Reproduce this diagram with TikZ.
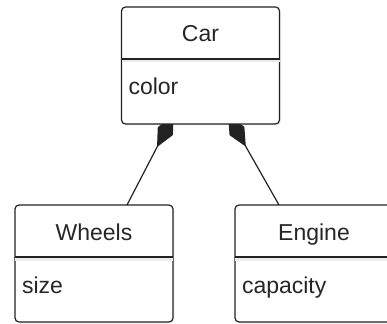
\documentclass[tikz,border=0pt]{standalone}
\usepackage{fontspec}
\setmainfont{Liberation Sans}
\usetikzlibrary{positioning,calc,arrows.meta,backgrounds,shadows}
\definecolor{umlline}{HTML}{222222}
\definecolor{umltext}{HTML}{262626}
\tikzset{
  classname/.style={minimum width=158pt, minimum height=52pt, inner sep=0pt, outer sep=0pt,
    text height=18pt, text depth=0pt, font=\fontsize{23}{27}\selectfont, text=umltext},
  classattr/.style={minimum width=158pt, minimum height=65pt, inner xsep=7pt, inner ysep=0pt,
    outer sep=0pt, text width=144pt, align=left, text height=12pt, text depth=5pt,
    font=\fontsize{23}{27}\selectfont, text=umltext},
  classframe/.style={draw=umlline, line width=1.2pt, rounded corners=4pt, fill=white,
    drop shadow={opacity=0.12, shadow xshift=1.5pt, shadow yshift=-1.5pt}},
  compose/.style={draw=umlline, line width=1.2pt, -{Diamond[length=36pt,width=17pt]}, shorten >=-10pt},
  divider/.style={draw=umlline, line width=1.2pt},
  dividershade/.style={black!8, line width=3pt}
}
\begin{document}
\begin{tikzpicture}[x=1pt,y=-1pt]
\useasboundingbox (0,0) rectangle (387,323);
\clip (0,0) rectangle (387,323);
\node[classname] (car) at (200.5,33) {Car};
\node[classattr, below=0pt of car] (car attr) {color};
\node[classname] (wheels) at (94,231) {Wheels};
\node[classattr, below=0pt of wheels] (wheels attr) {size};
\node[classname] (engine) at (314,231) {Engine};
\node[classattr, below=0pt of engine] (engine attr) {capacity};
\begin{scope}[on background layer]
\draw[compose] ($(wheels.north)+(33,0)$) -- ($(car attr.south)+(-31.5,0)$);
\draw[compose] ($(engine.north)+(-35,0)$) -- ($(car attr.south)+(32.5,0)$);
\draw[classframe] (car.north west) rectangle (car attr.south east);
\draw[classframe] (wheels.north west) rectangle (wheels attr.south east);
\draw[classframe] (engine.north west) rectangle (engine attr.south east);
\end{scope}
\draw[dividershade] ([yshift=-2pt]car.south west) -- ([yshift=-2pt]car.south east);
\draw[dividershade] ([yshift=-2pt]wheels.south west) -- ([yshift=-2pt]wheels.south east);
\draw[dividershade] ([yshift=-2pt]engine.south west) -- ([yshift=-2pt]engine.south east);
\draw[divider] (car.south west) -- (car.south east);
\draw[divider] (wheels.south west) -- (wheels.south east);
\draw[divider] (engine.south west) -- (engine.south east);
\end{tikzpicture}
\end{document}
